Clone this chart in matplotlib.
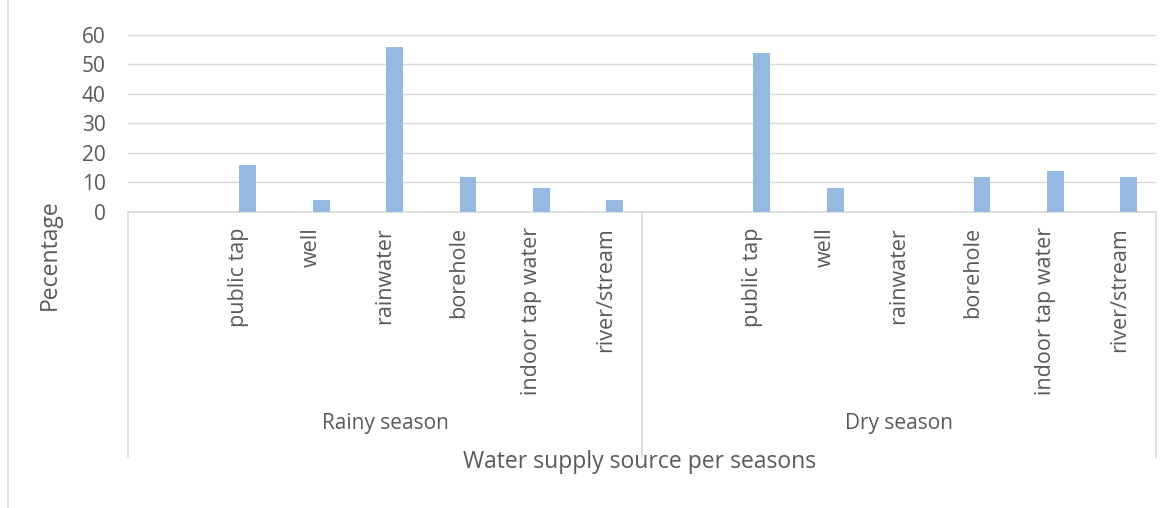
import matplotlib.pyplot as plt
from matplotlib.lines import Line2D

plt.rcParams['font.family'] = ['Open Sans', 'DejaVu Sans']

# water supply sources per season (first slot of each season is left empty)
seasons = ["Rainy season", "Dry season"]
sources = ["", "public tap", "well", "rainwater", "borehole", "indoor tap water", "river/stream"]
rainy_pct = [0, 16, 4, 56, 12, 8, 4]
dry_pct = [0, 54, 8, 0, 12, 14, 12]

values = rainy_pct + dry_pct
labels = sources + sources
x = list(range(len(values)))

text_col = '#595959'
line_col = '#d9d9d9'
bar_col = '#95b9e1'

W, H = 1171, 508
fig = plt.figure(figsize=(W / 100, H / 100), dpi=100)
left, right, top, bottom = 128, 1156, 35, 212
ax = fig.add_axes([left / W, 1 - bottom / H, (right - left) / W, (bottom - top) / H])

ax.bar([i + 0.13 for i in x], values, width=0.23, color=bar_col, zorder=3)

ax.set_xlim(-0.5, len(values) - 0.5)
ax.set_ylim(0, 60)
ax.set_yticks(range(0, 61, 10))
ax.grid(axis='y', color=line_col, lw=1, zorder=0)
for s in ['top', 'right', 'left']:
    ax.spines[s].set_visible(False)
ax.spines['bottom'].set_color(line_col)
ax.spines['bottom'].set_linewidth(1.2)
ax.tick_params(axis='y', length=0, pad=16, labelsize=15, labelcolor=text_col)
ax.tick_params(axis='x', length=0, pad=11, labelsize=15.5, labelcolor=text_col)
ax.set_xticks(x)
ax.set_xticklabels(labels, rotation=90, va='top', ha='center')

# season group labels and separators below the category labels
tr = ax.get_xaxis_transform()
y_end = (bottom - 457) / (bottom - top)
y_grp = (bottom - 424) / (bottom - top)
n = len(sources)
for k in range(len(seasons) + 1):
    xb = k * n - 0.5
    ax.add_line(Line2D([xb, xb], [0, y_end], transform=tr, color=line_col,
                       lw=1.2, clip_on=False))
for k, name in enumerate(seasons):
    ax.text(k * n + (n - 1) / 2, y_grp, name, transform=tr, ha='center',
            va='center', fontsize=15, color=text_col)

fig.text(640 / W, 1 - 462 / H, "Water supply source per seasons", ha='center',
         va='center', fontsize=16.5, color=text_col)
fig.text(50 / W, 1 - 255 / H, "Pecentage", ha='center', va='center',
         rotation=90, fontsize=16.5, color=text_col)

# outer chart frame (left edge)
fig.add_artist(Line2D([7.5 / W, 7.5 / W], [0, 1], transform=fig.transFigure,
                      color=line_col, lw=1.2))

fig.savefig('out.png', dpi=100)
